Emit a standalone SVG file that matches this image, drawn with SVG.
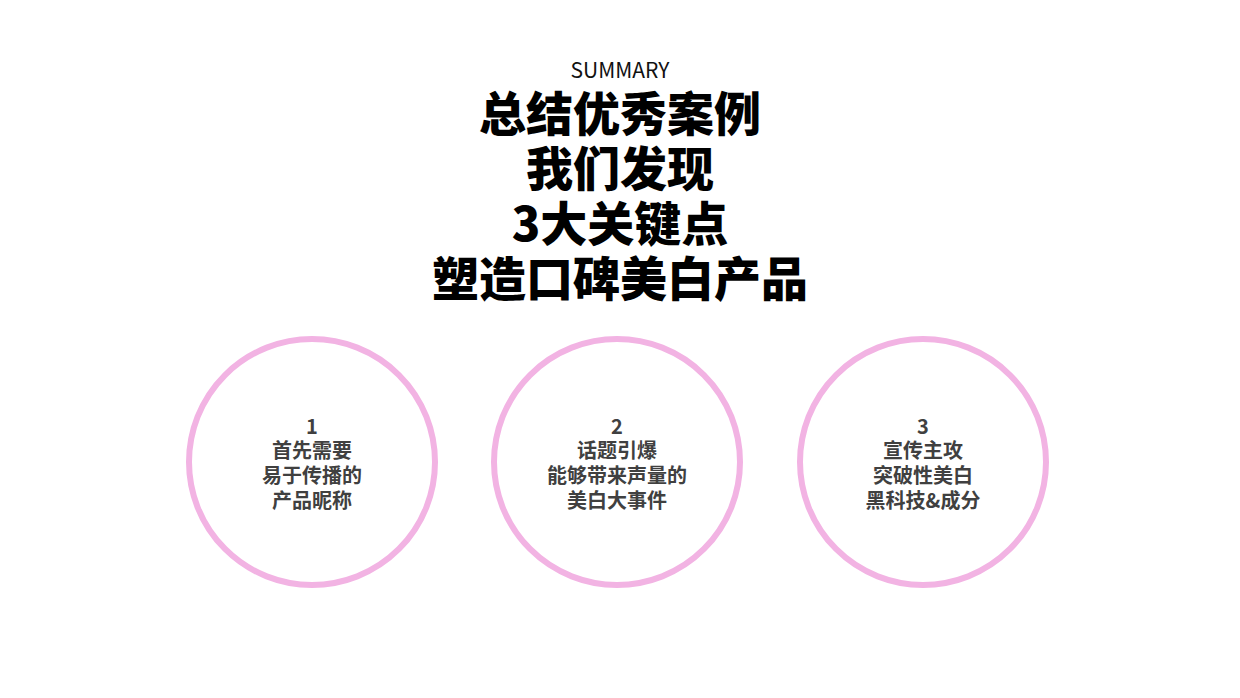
<svg xmlns="http://www.w3.org/2000/svg" width="1240" height="698" viewBox="0 0 1240 698">
<style>
.h{font-family:"Noto Sans CJK SC","Noto Sans",sans-serif;text-anchor:middle}
.t{font-size:47px;font-weight:900;fill:#000}
.c{fill:none;stroke:#f2b3e3;stroke-width:6}
.n{font-size:20px;font-weight:700;fill:#404040}
</style>
<rect width="1240" height="698" fill="#fff"/>
<g id="title" class="h">
<text x="620" y="78" font-size="21" fill="#111">SUMMARY</text>
<text class="t" x="620" y="131">总结优秀案例</text>
<text class="t" x="620" y="186">我们发现</text>
<text class="t" x="620" y="241">3大关键点</text>
<text class="t" x="620" y="296">塑造口碑美白产品</text>
</g>
<g id="node1" class="h">
<circle class="c" cx="312" cy="462" r="123"/>
<text class="n" x="312" y="434">1</text>
<text class="n" x="312" y="458">首先需要</text>
<text class="n" x="312" y="483">易于传播的</text>
<text class="n" x="312" y="508">产品昵称</text>
</g>
<g id="node2" class="h">
<circle class="c" cx="617" cy="462" r="123"/>
<text class="n" x="617" y="434">2</text>
<text class="n" x="617" y="458">话题引爆</text>
<text class="n" x="617" y="483">能够带来声量的</text>
<text class="n" x="617" y="508">美白大事件</text>
</g>
<g id="node3" class="h">
<circle class="c" cx="923" cy="462" r="123"/>
<text class="n" x="923" y="434">3</text>
<text class="n" x="923" y="458">宣传主攻</text>
<text class="n" x="923" y="483">突破性美白</text>
<text class="n" x="923" y="508">黑科技&amp;成分</text>
</g>
<g id="connectors"/>
</svg>
